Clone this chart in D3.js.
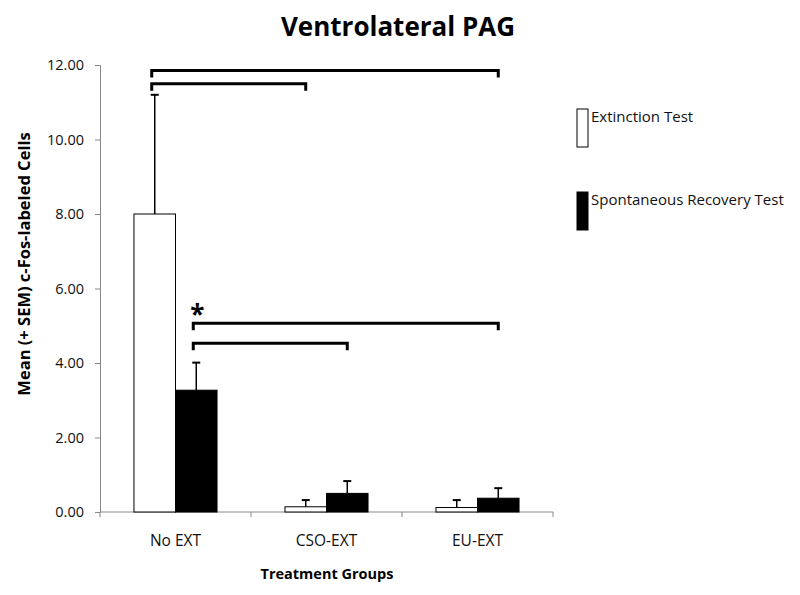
<!DOCTYPE html>
<html>
<head>
<meta charset="utf-8">
<script src="https://cdn.jsdelivr.net/npm/d3@7"></script>
<style>
  body { margin: 0; background: #fff; }
  text { font-family: "Open Sans", Arial, sans-serif; }
</style>
</head>
<body>
<div id="chart"></div>
<script>

// data
var groups = ["No EXT", "CSO-EXT", "EU-EXT"];
var series = ["Extinction Test", "Spontaneous Recovery Test"];
var extinctionMean = [8.0, 0.14, 0.12];
var extinctionSem = [3.2, 0.18, 0.2];
var recoveryMean = [3.27, 0.5, 0.37];
var recoverySem = [0.74, 0.33, 0.27];
var yTicks = [0, 2, 4, 6, 8, 10, 12];

// significance brackets: [group, series] at each end, height in data units
var brackets = [
  {from: [0, 0], to: [2, 1], level: 11.85},
  {from: [0, 0], to: [1, 0], level: 11.5},
  {from: [0, 1], to: [2, 1], level: 5.07},
  {from: [0, 1], to: [1, 1], level: 4.53}
];
var starAt = {group: 0, series: 1, level: 5.42};

var colors = ["#fff", "#000"];

var margin = {top: 65, right: 245, bottom: 84, left: 100},
    width = 800 - margin.left - margin.right,
    height = 595 - margin.top - margin.bottom;

var svg = d3.select("#chart").append("svg")
    .attr("width", 800)
    .attr("height", 595)
  .append("g")
    .attr("transform", "translate(" + margin.left + "," + margin.top + ")");

// scales
var x0 = d3.scaleBand()
    .domain(groups)
    .range([0, 453])
    .paddingInner(0.45)
    .paddingOuter(0.225);

var x1 = d3.scaleBand()
    .domain([0, 1])
    .range([0, x0.bandwidth()]);

var y = d3.scaleLinear()
    .domain([0, 12])
    .range([height + 1, 0]);

var rows = groups.map(function(g, i) {
  return {
    group: g,
    values: [
      {s: 0, mean: extinctionMean[i], sem: extinctionSem[i]},
      {s: 1, mean: recoveryMean[i], sem: recoverySem[i]}
    ]
  };
});

function barCenter(gi, si) {
  return x0(groups[gi]) + x1(si) + x1.bandwidth() / 2;
}

// y axis
var yAxis = svg.append("g")
    .call(d3.axisLeft(y).tickValues(yTicks).tickSize(5).tickFormat(d3.format(".2f")));
yAxis.select(".domain").attr("stroke", "#888");
yAxis.selectAll(".tick line").attr("stroke", "#888");
yAxis.selectAll(".tick text")
    .attr("x", -16)
    .style("font-size", "14.5px")
    .style("fill", "#111");

// x axis, ticks sit on the group boundaries
var xAxis = svg.append("g")
    .attr("transform", "translate(0," + y(0) + ")");
xAxis.append("line")
    .attr("x1", 0)
    .attr("x2", 453)
    .attr("stroke", "#888");
xAxis.selectAll(".sep")
    .data(d3.range(groups.length + 1))
    .enter().append("line")
    .attr("x1", function(i) { return i * x0.step(); })
    .attr("x2", function(i) { return i * x0.step(); })
    .attr("y1", 0)
    .attr("y2", 5)
    .attr("stroke", "#888");
xAxis.selectAll(".lbl")
    .data(groups)
    .enter().append("text")
    .attr("x", function(d) { return x0(d) + x0.bandwidth() / 2; })
    .attr("y", 34)
    .attr("text-anchor", "middle")
    .style("font-size", "15.5px")
    .style("fill", "#111")
    .text(function(d) { return d; });

// bars
var grp = svg.selectAll(".grp")
    .data(rows)
    .enter().append("g")
    .attr("transform", function(d) { return "translate(" + x0(d.group) + ",0)"; });

grp.selectAll("rect")
    .data(function(d) { return d.values; })
    .enter().append("rect")
    .attr("x", function(d) { return x1(d.s); })
    .attr("y", function(d) { return y(d.mean); })
    .attr("width", x1.bandwidth())
    .attr("height", function(d) { return y(0) - y(d.mean); })
    .attr("fill", function(d) { return colors[d.s]; })
    .attr("stroke", "#000")
    .attr("stroke-width", 1);

// error bars (upper only)
grp.selectAll(".err")
    .data(function(d) { return d.values; })
    .enter().append("line")
    .attr("x1", function(d) { return x1(d.s) + x1.bandwidth() / 2; })
    .attr("x2", function(d) { return x1(d.s) + x1.bandwidth() / 2; })
    .attr("y1", function(d) { return y(d.mean); })
    .attr("y2", function(d) { return y(d.mean + d.sem); })
    .attr("stroke", "#000")
    .attr("stroke-width", 1.5);

grp.selectAll(".cap")
    .data(function(d) { return d.values; })
    .enter().append("line")
    .attr("x1", function(d) { return x1(d.s) + x1.bandwidth() / 2 - 4; })
    .attr("x2", function(d) { return x1(d.s) + x1.bandwidth() / 2 + 4; })
    .attr("y1", function(d) { return y(d.mean + d.sem); })
    .attr("y2", function(d) { return y(d.mean + d.sem); })
    .attr("stroke", "#000")
    .attr("stroke-width", 2);

// significance brackets
svg.selectAll(".bracket")
    .data(brackets)
    .enter().append("path")
    .attr("fill", "none")
    .attr("stroke", "#000")
    .attr("stroke-width", 3)
    .attr("d", function(b) {
      var xa = barCenter(b.from[0], b.from[1]) - 3,
          xb = barCenter(b.to[0], b.to[1]),
          yy = y(b.level);
      return "M" + xa + "," + (yy + 7) + "V" + yy + "H" + xb + "V" + (yy + 7);
    });

svg.append("text")
    .attr("x", barCenter(starAt.group, starAt.series) + 1)
    .attr("y", y(starAt.level) + 14)
    .attr("text-anchor", "middle")
    .style("font-size", "26px")
    .style("font-weight", "bold")
    .text("*");

// title
svg.append("text")
    .attr("x", 298)
    .attr("y", 36 - margin.top)
    .attr("text-anchor", "middle")
    .style("font-size", "26px")
    .style("font-weight", "bold")
    .text("Ventrolateral PAG");

// axis titles
svg.append("text")
    .attr("x", 227)
    .attr("y", height + 68)
    .attr("text-anchor", "middle")
    .style("font-size", "14.5px")
    .style("font-weight", "bold")
    .text("Treatment Groups");

svg.append("text")
    .attr("transform", "translate(-70," + (264 - margin.top) + ") rotate(-90)")
    .attr("text-anchor", "middle")
    .style("font-size", "16.5px")
    .style("font-weight", "bold")
    .text("Mean (+ SEM) c-Fos-labeled Cells");

// legend
var legend = svg.selectAll(".legend")
    .data(series)
    .enter().append("g")
    .attr("transform", function(d, i) { return "translate(477," + (44 + i * 83) + ")"; });

legend.append("rect")
    .attr("width", 11)
    .attr("height", 38)
    .attr("fill", function(d, i) { return colors[i]; })
    .attr("stroke", "#000");

legend.append("text")
    .attr("x", 14)
    .attr("y", 13)
    .style("font-size", "15px")
    .style("fill", "#111")
    .text(function(d) { return d; });

</script>
</body>
</html>
